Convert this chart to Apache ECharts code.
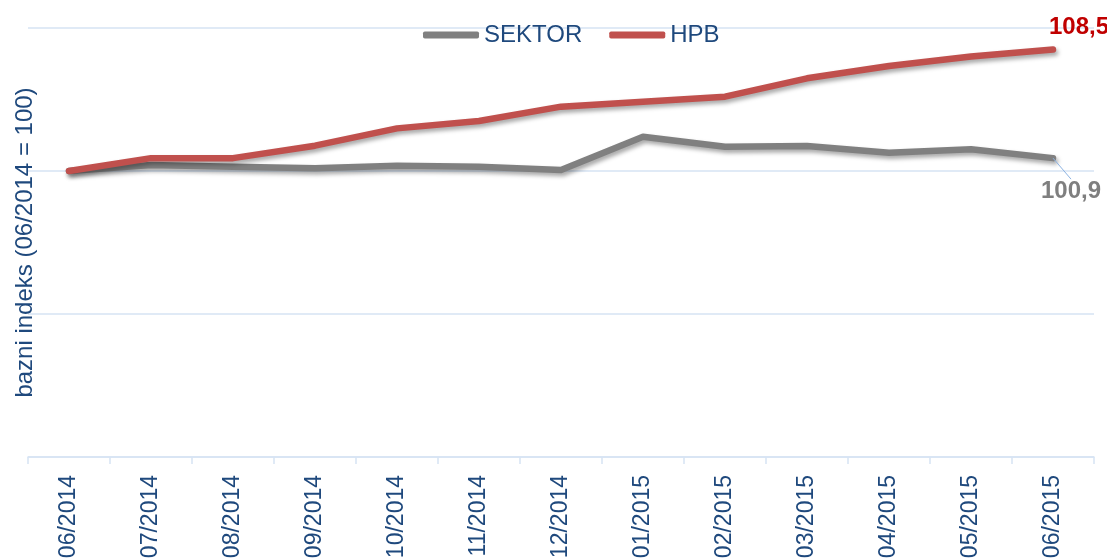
<!DOCTYPE html>
<html><head><meta charset="utf-8">
<script src="https://cdn.jsdelivr.net/npm/echarts@6/dist/echarts.min.js"></script>
<style>html,body{margin:0;padding:0;background:#fff}#c{width:1107px;height:559px}</style>
</head><body><div id="c"></div>
<script>
const categories = ['06/2014','07/2014','08/2014','09/2014','10/2014','11/2014','12/2014','01/2015','02/2015','03/2015','04/2015','05/2015','06/2015'];
const sektor = [100.0, 100.42, 100.3, 100.2, 100.37, 100.3, 100.07, 102.4, 101.7, 101.75, 101.28, 101.52, 100.9];
const hpb = [100.0, 100.9, 100.9, 101.77, 102.98, 103.5, 104.5, 104.85, 105.2, 106.48, 107.34, 108.0, 108.5];
const yTicks = {min: 80, max: 110, interval: 10};
const FONT = 'Liberation Sans, Arial, sans-serif';
const TXT = '#1F497D';
const GRID = '#D6E3F3';

function lastLabel(arr, fmtColor) {
  return arr.map((v, i) => i === arr.length - 1 ? {
    value: v,
    label: {show: true, formatter: String(v.toFixed(1)).replace('.', ','), color: fmtColor,
      fontWeight: 'bold', fontSize: 24, fontFamily: FONT, position: 'inside'}
  } : v);
}

const chart = echarts.init(document.getElementById('c'), null, {renderer: 'canvas'});
chart.setOption({
  animation: false,
  backgroundColor: '#fff',
  grid: {left: 28, right: 13, top: 28, bottom: 102, containLabel: false, outerBoundsMode: 'none'},
  legend: {
    top: 18, left: 418, itemGap: 27, itemWidth: 56, itemHeight: 7,
    icon: 'roundRect',
    textStyle: {color: TXT, fontSize: 24, fontFamily: FONT},
    data: ['SEKTOR', 'HPB']
  },
  xAxis: {
    type: 'category', data: categories, boundaryGap: true,
    axisLine: {lineStyle: {color: GRID, width: 1.5}},
    axisTick: {show: true, length: 7, lineStyle: {color: GRID, width: 1.5}},
    axisLabel: {rotate: 90, color: TXT, fontSize: 23, fontFamily: FONT, margin: 18}
  },
  yAxis: {
    type: 'value', min: yTicks.min, max: yTicks.max, interval: yTicks.interval,
    name: 'bazni indeks (06/2014 = 100)', nameLocation: 'middle', nameGap: -9,
    nameTextStyle: {color: TXT, fontSize: 24, fontFamily: FONT},
    axisLabel: {show: false}, axisTick: {show: false}, axisLine: {show: false},
    splitLine: {lineStyle: {color: GRID, width: 1.5}}
  },
  series: [
    {
      name: 'SEKTOR', type: 'line', data: lastLabel(sektor, '#7F7F7F'),
      showSymbol: true, symbol: 'circle', symbolSize: 0.1,
      itemStyle: {color: '#808080'},
      lineStyle: {color: '#808080', width: 6.5, cap: 'round', join: 'round',
        shadowColor: 'rgba(0,0,0,0.35)', shadowBlur: 4, shadowOffsetX: 2, shadowOffsetY: 3},
      labelLayout: {dx: 18, dy: 33},
      labelLine: {show: true, length2: 0, lineStyle: {color: '#8DB3E2', width: 1}},
      z: 2
    },
    {
      name: 'HPB', type: 'line', data: lastLabel(hpb, '#C00000'),
      showSymbol: true, symbol: 'circle', symbolSize: 0.1,
      itemStyle: {color: '#C0504D'},
      lineStyle: {color: '#C0504D', width: 6.5, cap: 'round', join: 'round',
        shadowColor: 'rgba(0,0,0,0.35)', shadowBlur: 4, shadowOffsetX: 2, shadowOffsetY: 3},
      labelLayout: {dx: 26, dy: -22},
      z: 3
    }
  ]
});
</script></body></html>
